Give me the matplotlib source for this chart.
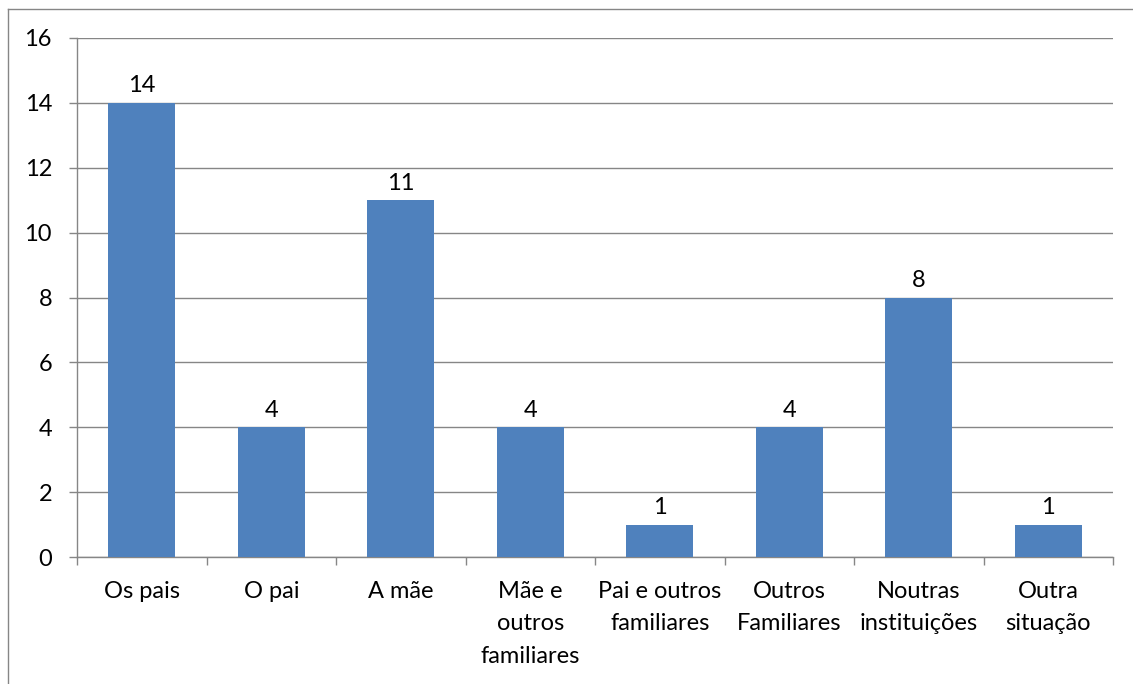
import matplotlib.pyplot as plt
from matplotlib.lines import Line2D

categories = ['Os pais', 'O pai', 'A mãe', 'Mãe e\noutros\nfamiliares',
              'Pai e outros\nfamiliares', 'Outros\nFamiliares',
              'Noutras\ninstituições', 'Outra\nsituação']
values = [14, 4, 11, 4, 1, 4, 8, 1]
y_ticks = [0, 2, 4, 6, 8, 10, 12, 14, 16]

bar_color = '#4F81BD'
grid_color = '#868686'

plt.rcParams['font.family'] = ['Lato', 'DejaVu Sans']

fig = plt.figure(figsize=(11.33, 6.84), dpi=100)
ax = fig.add_axes([77 / 1133, 1 - 557 / 684, (1113 - 77) / 1133, (557 - 38) / 684])

x = list(range(len(categories)))
bars = ax.bar(x, values, width=0.52, color=bar_color, zorder=3)
for b, v in zip(bars, values):
    ax.text(b.get_x() + b.get_width() / 2, v + 0.2, str(v),
            ha='center', va='bottom', fontsize=17, color='black')

ax.set_xlim(-0.5, len(categories) - 0.5)
ax.set_ylim(0, 16)
ax.set_yticks(y_ticks)
ax.yaxis.grid(True, color=grid_color, linewidth=1.0, zorder=0)
ax.set_axisbelow(True)

# category labels between boundary ticks
ax.set_xticks(x)
ax.set_xticklabels(categories, fontsize=17, linespacing=1.68)
ax.tick_params(axis='x', length=0, pad=17)
ax.set_xticks([i - 0.5 for i in range(len(categories) + 1)], minor=True)
ax.tick_params(axis='x', which='minor', length=6, width=1.0, color=grid_color)
ax.tick_params(axis='y', length=6, width=1.0, color=grid_color,
               labelsize=17, pad=12)

for s in ['top', 'right']:
    ax.spines[s].set_visible(False)
for s in ['left', 'bottom']:
    ax.spines[s].set_color(grid_color)
    ax.spines[s].set_linewidth(1.0)

# outer chart border (left and top edges visible)
fig.add_artist(Line2D([8 / 1133, 8 / 1133], [0, 1 - 9 / 684],
                      transform=fig.transFigure, color=grid_color, linewidth=1.0))
fig.add_artist(Line2D([8 / 1133, 1], [1 - 9 / 684, 1 - 9 / 684],
                      transform=fig.transFigure, color=grid_color, linewidth=1.0))

fig.savefig('out.png', dpi=100)
